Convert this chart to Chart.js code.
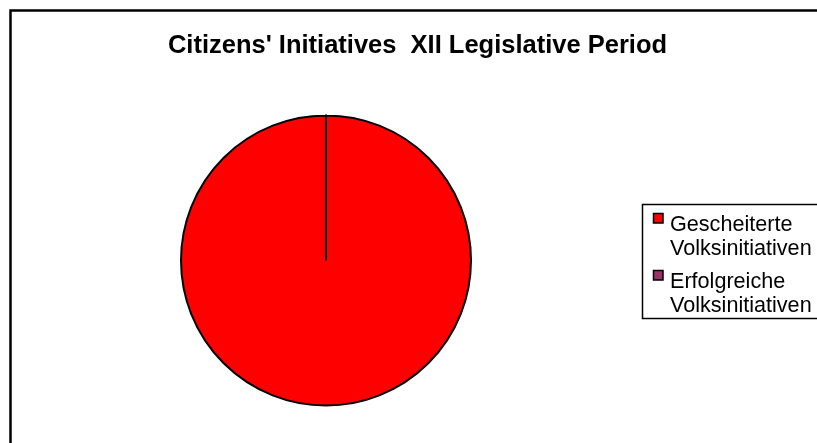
<!DOCTYPE html>
<html>
<head>
<meta charset="utf-8">
<script src="https://cdn.jsdelivr.net/npm/chart.js@4"></script>
<style>
html,body{margin:0;padding:0;background:#fff;}
canvas{display:block;}
</style>
</head>
<body>
<canvas id="c" width="817" height="443"></canvas>
<script>
const titleText = "Citizens' Initiatives  XII Legislative Period";
const categories = [["Gescheiterte", "Volksinitiativen"], ["Erfolgreiche", "Volksinitiativen"]];
const values = [100, 0];
const colors = ["#FF0000", "#993366"];

const framePlugin = {
  id: 'frame',
  beforeDraw(chart) {
    const ctx = chart.ctx;
    ctx.save();
    ctx.fillStyle = '#fff';
    ctx.fillRect(0, 0, chart.width, chart.height);
    ctx.strokeStyle = '#000';
    ctx.lineWidth = 2.5;
    ctx.strokeRect(10.5, 10.5, 900, 600);
    ctx.restore();
  },
  afterDraw(chart) {
    const ctx = chart.ctx;
    ctx.save();
    ctx.fillStyle = '#000';
    ctx.font = 'bold 25.5px "Liberation Sans", Arial, sans-serif';
    ctx.textAlign = 'center';
    ctx.textBaseline = 'alphabetic';
    ctx.fillText(titleText, 417.5, 53);
    ctx.lineWidth = 1.5;
    ctx.strokeStyle = '#000';
    ctx.strokeRect(642.5, 204.5, 300, 114);
    ctx.font = '21.6px "Liberation Sans", Arial, sans-serif';
    ctx.textAlign = 'left';
    const starts = [231, 288];
    categories.forEach((lines, i) => {
      const base = starts[i];
      ctx.fillStyle = colors[i];
      ctx.fillRect(653.5, base - 17.5, 9.5, 9.5);
      ctx.lineWidth = 1.5;
      ctx.strokeRect(653.5, base - 17.5, 9.5, 9.5);
      ctx.fillStyle = '#000';
      lines.forEach((t, j) => ctx.fillText(t, 670, base + j * 24));
    });
    ctx.restore();
  }
};

new Chart(document.getElementById('c'), {
  type: 'pie',
  data: {
    labels: categories.map(l => l.join(' ')),
    datasets: [{
      data: values,
      backgroundColor: colors,
      borderColor: '#000',
      borderWidth: 2,
      borderJoinStyle: 'miter'
    }]
  },
  options: {
    responsive: false,
    animation: false,
    layout: { padding: { left: 180, right: 345, top: 114, bottom: 36 } },
    plugins: {
      legend: { display: false },
      title: { display: false },
      tooltip: { enabled: false }
    }
  },
  plugins: [framePlugin]
});
</script>
</body>
</html>
